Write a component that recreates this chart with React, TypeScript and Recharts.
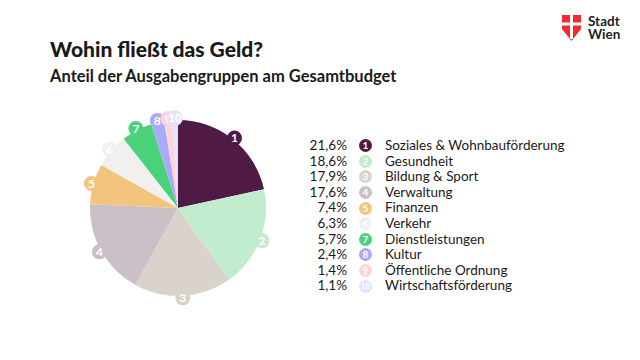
import { PieChart, Pie, Cell } from 'recharts';

const CATEGORIES = [
  'Soziales & Wohnbauförderung',
  'Gesundheit',
  'Bildung & Sport',
  'Verwaltung',
  'Finanzen',
  'Verkehr',
  'Dienstleistungen',
  'Kultur',
  'Öffentliche Ordnung',
  'Wirtschaftsförderung',
];

const SHARES = [21.6, 18.6, 17.9, 17.6, 7.4, 6.3, 5.7, 2.4, 1.4, 1.1];

const COLORS = [
  '#4f1b45',
  '#c2ecce',
  '#d9d3cc',
  '#cbbfc8',
  '#f2c47e',
  '#f1f0ee',
  '#4ad27a',
  '#abaaf7',
  '#fdd3d7',
  '#e3e3fb',
];

const FONT = 'Lato, "Open Sans", sans-serif';
const RAD = Math.PI / 180;

const data = CATEGORIES.map((name, i) => ({
  name,
  value: SHARES[i],
  idx: i + 1,
}));

function fmt(v: number) {
  return v.toFixed(1).replace('.', ',') + '%';
}

function renderLabel(props: any) {
  const { cx, cy, midAngle, outerRadius, index } = props;
  const r = outerRadius + 2;
  const x = cx + r * Math.cos(-midAngle * RAD);
  const y = cy + r * Math.sin(-midAngle * RAD);
  const n = index + 1;
  return (
    <g key={`lbl-${n}`}>
      <circle cx={x} cy={y} r={n >= 10 ? 8 : 7.5} fill={COLORS[index]} />
      <text
        x={x}
        y={y}
        dy="0.36em"
        textAnchor="middle"
        fill="#ffffff"
        fontSize={n >= 10 ? 11 : 12}
        fontWeight={700}
        fontFamily={FONT}
      >
        {n}
      </text>
    </g>
  );
}

function Logo() {
  return (
    <div style={{ position: 'absolute', left: 562, top: 15, display: 'flex', alignItems: 'flex-start' }}>
      <svg width={19} height={26} viewBox="0 0 19 26">
        <path d="M0 0 H19 V14 L9.5 26 L0 14 Z" fill="#ef2b2d" />
        <rect x={8} y={0} width={3} height={24} fill="#ffffff" />
        <rect x={0} y={7.5} width={19} height={3} fill="#ffffff" />
      </svg>
      <div
        style={{
          marginLeft: 7,
          marginTop: 0,
          fontFamily: FONT,
          fontWeight: 700,
          fontSize: 13.5,
          lineHeight: '13px',
          color: '#222',
        }}
      >
        Stadt
        <br />
        Wien
      </div>
    </div>
  );
}

export default function App() {
  return (
    <div
      style={{
        position: 'fixed',
        left: 0,
        top: 0,
        width: 640,
        height: 360,
        background: '#ffffff',
        fontFamily: FONT,
        color: '#1a1a1a',
      }}
    >
      <div
        style={{
          position: 'absolute',
          left: 50,
          top: 36,
          fontSize: 21,
          fontWeight: 900,
          fontFamily: FONT,
        }}
      >
        Wohin fließt das Geld?
      </div>
      <div
        style={{
          position: 'absolute',
          left: 50,
          top: 66,
          fontSize: 16.5,
          fontWeight: 700,
        }}
      >
        Anteil der Ausgabengruppen am Gesamtbudget
      </div>
      <Logo />

      <div style={{ position: 'absolute', left: 0, top: 0 }}>
        <PieChart width={360} height={360} margin={{ top: 0, right: 0, bottom: 0, left: 0 }}>
          <Pie
            data={data}
            dataKey="value"
            nameKey="name"
            cx={178}
            cy={208}
            outerRadius={88}
            startAngle={90}
            endAngle={-270}
            stroke="none"
            labelLine={false}
            label={renderLabel}
            isAnimationActive={false}
          >
            {data.map((d, i) => (
              <Cell key={d.name} fill={COLORS[i]} />
            ))}
          </Pie>
        </PieChart>
      </div>

      <div style={{ position: 'absolute', left: 300, top: 138 }}>
        {data.map((d, i) => (
          <div
            key={d.name}
            style={{ display: 'flex', alignItems: 'center', height: 15.6, fontSize: 13.5, lineHeight: '15.6px' }}
          >
            <span style={{ width: 47, textAlign: 'right' }}>{fmt(d.value)}</span>
            <span
              style={{
                marginLeft: 12,
                width: 13,
                height: 13,
                borderRadius: '50%',
                background: COLORS[i],
                color: '#fff',
                fontSize: d.idx >= 10 ? 8 : 10,
                fontWeight: 700,
                display: 'flex',
                alignItems: 'center',
                justifyContent: 'center',
                lineHeight: '13px',
              }}
            >
              {d.idx}
            </span>
            <span style={{ marginLeft: 13 }}>{d.name}</span>
          </div>
        ))}
      </div>
    </div>
  );
}
